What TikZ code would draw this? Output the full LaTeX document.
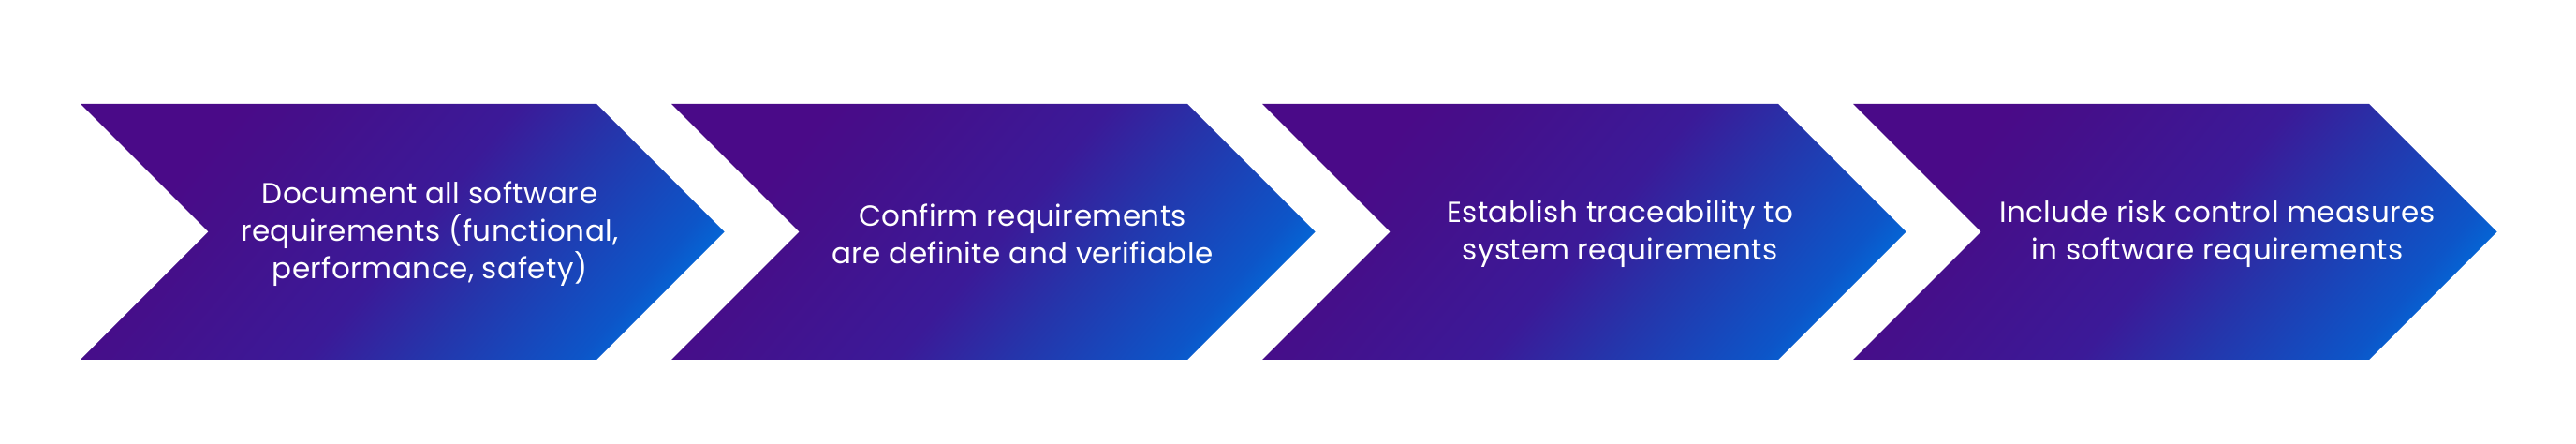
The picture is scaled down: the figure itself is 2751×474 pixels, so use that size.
\documentclass[tikz,border=0pt]{standalone}
\usepackage{fontspec}
\setmainfont{Poppins}[LetterSpace=1.5]
\definecolor{cA}{HTML}{4A0A88}
\definecolor{cP}{HTML}{450F8A}
\definecolor{cQ}{HTML}{3B1A98}
\definecolor{cM}{HTML}{2535AB}
\definecolor{cT}{HTML}{0D55C8}
\definecolor{cB}{HTML}{0565D5}
\pgfdeclarehorizontalshading{chev}{100bp}{color(0bp)=(cA); color(34.7bp)=(cA); color(39.1bp)=(cP); color(50.7bp)=(cQ); color(57.3bp)=(cM); color(66.2bp)=(cT); color(68.4bp)=(cB); color(100bp)=(cB)}
\tikzset{
  label/.style={text=white, align=center, font=\fontsize{15.5pt}{20pt}\selectfont, inner sep=0pt},
}
\begin{document}
\begin{tikzpicture}[x=0.5pt,y=-0.5pt]
\useasboundingbox (0,0) rectangle (2751,474);
\foreach \i in {0,1,2,3}{
  \pgfmathsetmacro{\xx}{86+631*\i}
  \begin{scope}
    \clip (\xx,111) -- ++(551,0) -- ++(136.5,136.5) -- ++(-136.5,136.5) -- ++(-551,0) -- ++(136.5,-136.5) -- cycle;
    \shade[shading=chev, transform canvas={rotate around={-40:(\xx,111)}}] (\xx-10,-300) rectangle (\xx+710,520);
  \end{scope}
}
\node[label] (t1) at (459,250) {Document all software\\requirements (functional,\\performance, safety)};
\node[label] (t2) at (1092,250) {Confirm requirements\\are definite and verifiable};
\node[label] (t3) at (1730,250) {Establish traceability to\\system requirements};
\node[label] (t4) at (2368,250) {Include risk control measures\\in software requirements};
\end{tikzpicture}
\end{document}
